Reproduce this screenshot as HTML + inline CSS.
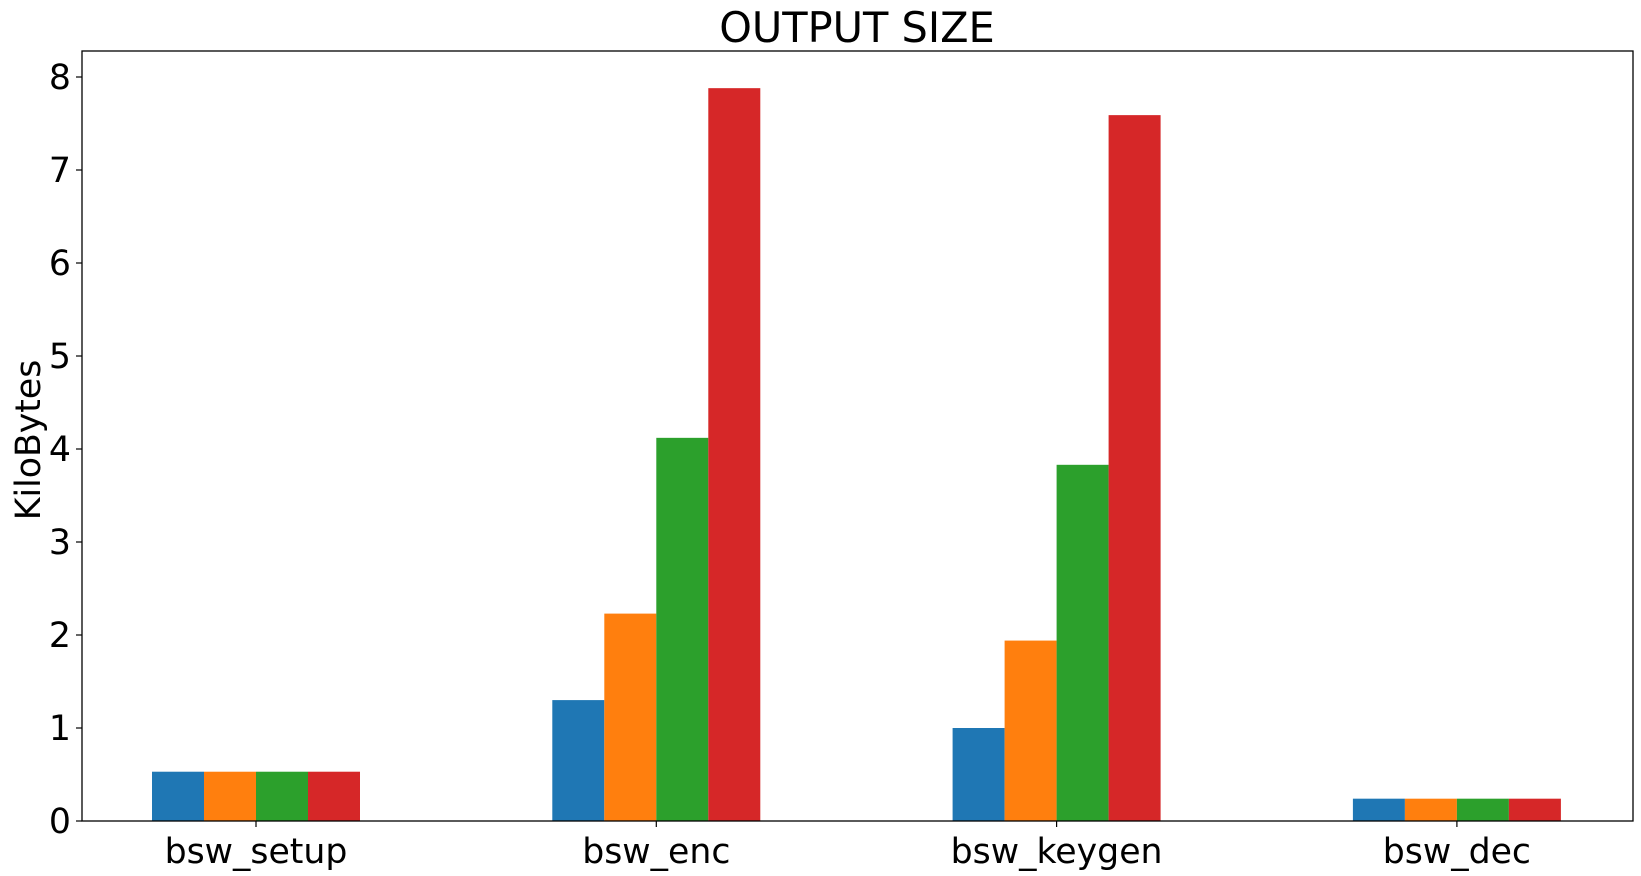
<!DOCTYPE html>
<html><head><meta charset="utf-8"><style>
body{margin:0;background:#fff;}
svg{display:block;font-family:"DejaVu Sans","Liberation Sans",sans-serif;}
</style></head><body>
<svg id="chart" width="1641" height="876">
<text x="857" y="42" font-size="41.5" text-anchor="middle">OUTPUT SIZE</text>
<text transform="translate(40,440) rotate(-90)" font-size="34.7" text-anchor="middle">KiloBytes</text>
<g id="bars"></g>
<g id="axes"></g>
</svg>
<script>
const categories = ["bsw_setup","bsw_enc","bsw_keygen","bsw_dec"];
const series1 = [0.53, 1.30, 1.00, 0.24];
const series2 = [0.53, 2.23, 1.94, 0.24];
const series3 = [0.53, 4.12, 3.83, 0.24];
const series4 = [0.53, 7.88, 7.59, 0.24];
const yTicks = [0,1,2,3,4,5,6,7,8];
const colors = ["#1f77b4","#ff7f0e","#2ca02c","#d62728"];
const allSeries = [series1,series2,series3,series4];
const L=82,R=1633,T=51,B=821;
const ns="http://www.w3.org/2000/svg";
function xScale(i){return 256+i*400.3;}
function yScale(v){return B-v*93.0;}
const barW=52;
const bars=document.getElementById('bars');
allSeries.forEach((s,si)=>{
  s.forEach((v,ci)=>{
    const r=document.createElementNS(ns,'rect');
    r.setAttribute('x',xScale(ci)+(si-2)*barW);
    r.setAttribute('y',yScale(v));
    r.setAttribute('width',barW);
    r.setAttribute('height',B-yScale(v));
    r.setAttribute('fill',colors[si]);
    
    
    bars.appendChild(r);
  });
});
const ax=document.getElementById('axes');
const frame=document.createElementNS(ns,'rect');
frame.setAttribute('x',L);frame.setAttribute('y',T);frame.setAttribute('width',R-L);frame.setAttribute('height',B-T);
frame.setAttribute('fill','none');frame.setAttribute('stroke','#000');frame.setAttribute('stroke-width','1.3');


ax.appendChild(frame);
yTicks.forEach(t=>{
  const y=yScale(t);
  const l=document.createElementNS(ns,'line');
  l.setAttribute('x1',L-6);l.setAttribute('x2',L);l.setAttribute('y1',y);l.setAttribute('y2',y);l.setAttribute('stroke','#000');l.setAttribute('stroke-width','1.2');
  
  
  ax.appendChild(l);
  const tx=document.createElementNS(ns,'text');
  tx.setAttribute('x',L-11);tx.setAttribute('y',y+12);tx.setAttribute('font-size','34.7');tx.setAttribute('text-anchor','end');
  tx.textContent=t;
  
  
  ax.appendChild(tx);
});
categories.forEach((c,i)=>{
  const x=xScale(i);
  const l=document.createElementNS(ns,'line');
  l.setAttribute('x1',x);l.setAttribute('x2',x);l.setAttribute('y1',B);l.setAttribute('y2',B+6);l.setAttribute('stroke','#000');l.setAttribute('stroke-width','1.2');
  
  
  ax.appendChild(l);
  const tx=document.createElementNS(ns,'text');
  tx.setAttribute('x',x);tx.setAttribute('y',B+42);tx.setAttribute('font-size','34.7');tx.setAttribute('text-anchor','middle');
  tx.textContent=c;
  
  
  ax.appendChild(tx);
});
</script>
</body></html>
